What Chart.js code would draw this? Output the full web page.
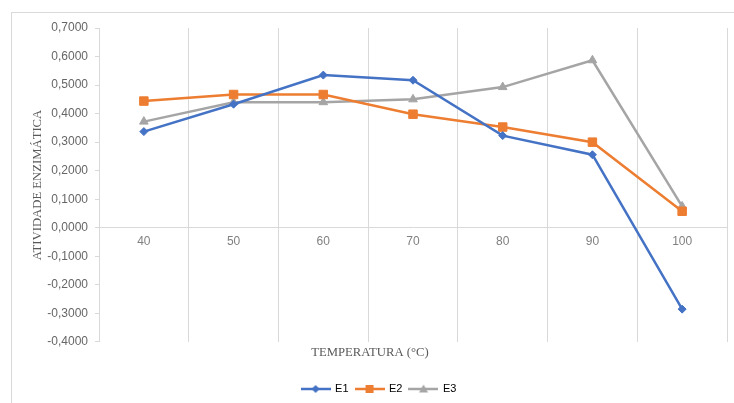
<!DOCTYPE html>
<html>
<head>
<meta charset="utf-8">
<script src="https://cdn.jsdelivr.net/npm/chart.js@4"></script>
<style>
  body { margin: 0; background: #fff; overflow: hidden; }
  #frame { position: absolute; left: 11px; top: 12px; width: 760px; height: 420px; border: 1px solid #d9d9d9; }
  #chart { position: absolute; left: 0; top: 0; }
</style>
</head>
<body>
<div id="frame"></div>
<canvas id="chart" width="734" height="403"></canvas>
<script>
// Temperaturas (°C)
const temperaturas = ['40', '50', '60', '70', '80', '90', '100']

// Atividade enzimática por extrato
const e1 = [0.337, 0.433, 0.535, 0.517, 0.323, 0.256, -0.285]
const e2 = [0.444, 0.467, 0.467, 0.398, 0.353, 0.300, 0.058]
const e3 = [0.372, 0.440, 0.440, 0.450, 0.493, 0.587, 0.075]

const yMin = -0.4
const yMax = 0.7
const yStep = 0.1

const cores = ['#4472C4', '#ED7D31', '#A5A5A5']

// legend glyph: short line with the marker in the middle (Excel style)
function legendIcon (color, style) {
  const c = document.createElement('canvas')
  c.width = 30
  c.height = 12
  const ctx = c.getContext('2d')
  ctx.strokeStyle = color
  ctx.fillStyle = color
  ctx.lineWidth = 2.5
  ctx.beginPath()
  ctx.moveTo(0, 6)
  ctx.lineTo(30, 6)
  ctx.stroke()
  ctx.beginPath()
  if (style === 'diamond') {
    ctx.moveTo(15, 2); ctx.lineTo(19, 6); ctx.lineTo(15, 10); ctx.lineTo(11, 6)
  } else if (style === 'square') {
    ctx.rect(11, 2, 8, 8)
  } else {
    ctx.moveTo(15, 1.5); ctx.lineTo(19.5, 9.5); ctx.lineTo(10.5, 9.5)
  }
  ctx.closePath()
  ctx.fill()
  return c
}
const icones = [legendIcon(cores[0], 'diamond'), legendIcon(cores[1], 'square'), legendIcon(cores[2], 'triangle')]

function fmt (v) {
  if (Math.abs(v) < 1e-9) v = 0
  return v.toFixed(4).replace('.', ',')
}

function serie (label, data, color, style, radius) {
  return {
    label: label,
    data: data,
    borderColor: color,
    backgroundColor: color,
    borderWidth: 2.5,
    pointStyle: style,
    pointRadius: radius,
    pointHoverRadius: radius,
    pointBorderWidth: 1,
    tension: 0
  }
}

// legend sits a little right of the canvas centre in the original
const legendShift = {
  id: 'legendShift',
  afterLayout (chart) {
    if (!chart.legend) return
    chart.legend.left += 9
    chart.legend.right += 9
  }
}

new Chart(document.getElementById('chart').getContext('2d'), {
  type: 'line',
  data: {
    labels: temperaturas,
    datasets: [
      serie('E1', e1, cores[0], 'rectRot', 4),
      serie('E2', e2, cores[1], 'rect', 6),
      serie('E3', e3, cores[2], 'triangle', 5)
    ]
  },
  plugins: [legendShift],
  options: {
    responsive: false,
    animation: false,
    layout: { padding: { left: 11, top: 28, right: 5, bottom: 0.5 } },
    scales: {
      x: {
        type: 'category',
        offset: true,
        position: { y: 0 },
        afterFit: s => { s.height = 0 },
        grid: { offset: true, color: '#d9d9d9', lineWidth: 1, drawTicks: false },
        border: { display: true, color: '#d9d9d9', width: 1 },
        ticks: { padding: 7, color: '#808080', font: { family: 'Liberation Sans', size: 12 } }
      },
      y: {
        min: yMin,
        max: yMax,
        afterFit: s => { s.width = 88 },
        grid: { drawOnChartArea: false, drawTicks: true, tickLength: 4, color: '#d9d9d9' },
        border: { display: true, color: '#d9d9d9', width: 1 },
        ticks: {
          stepSize: yStep,
          padding: 7,
          color: '#666666',
          font: { family: 'Liberation Sans', size: 12 },
          callback: v => fmt(v)
        },
        title: {
          display: true,
          text: 'ATIVIDADE ENZIMÁTICA',
          color: '#595959',
          font: { family: 'Liberation Serif', size: 12.7 },
          padding: { top: 19, bottom: 0 }
        }
      }
    },
    plugins: {
      title: {
        display: true,
        text: 'TEMPERATURA (°C)',
        position: 'bottom',
        weight: 500,
        color: '#595959',
        font: { family: 'Liberation Serif', size: 12.7, weight: 'normal' },
        padding: { top: 3, bottom: 16.3 }
      },
      legend: {
        position: 'bottom',
        maxHeight: 26,
        labels: {
          usePointStyle: true,
          pointStyleWidth: 28,
          padding: 7,
          color: '#595959',
          font: { family: 'Liberation Sans', size: 11 },
          generateLabels: chart => chart.data.datasets.map((ds, i) => ({
            text: ds.label,
            pointStyle: icones[i],
            fillStyle: 'transparent',
            strokeStyle: 'transparent',
            lineWidth: 0,
            hidden: false,
            datasetIndex: i
          }))
        }
      },
      tooltip: { enabled: false }
    }
  }
})
</script>
</body>
</html>
